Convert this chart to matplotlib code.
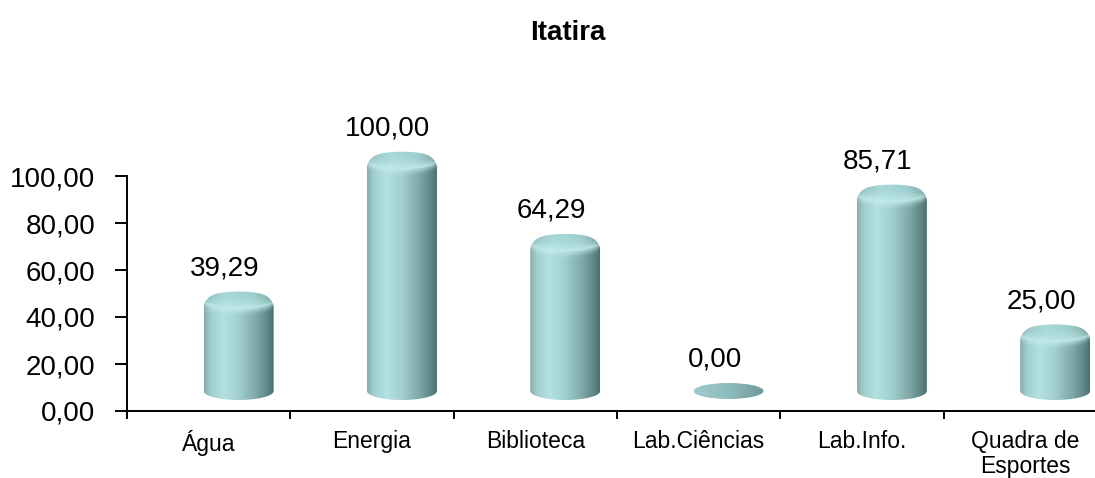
import numpy as np
import matplotlib
matplotlib.use("Agg")
import matplotlib.pyplot as plt
from matplotlib.path import Path
from matplotlib.patches import PathPatch, Ellipse
from matplotlib.colors import to_rgb
from matplotlib.transforms import ScaledTranslation

categories = ["Água", "Energia", "Biblioteca", "Lab.Ciências", "Lab.Info.", "Quadra de\nEsportes"]
values = [39.29, 100.00, 64.29, 0.00, 85.71, 25.00]
value_labels = ["39,29", "100,00", "64,29", "0,00", "85,71", "25,00"]
yticks = [0, 20, 40, 60, 80, 100]
ytick_labels = ["0,00", "20,00", "40,00", "60,00", "80,00", "100,00"]
title = "Itatira"

plt.rcParams['font.family'] = ['Liberation Sans', 'DejaVu Sans']

W, H = 1095, 478
fig = plt.figure(figsize=(W / 100, H / 100), dpi=100)

px_x = 163.3          # pixels per category
px_y = 2.35           # pixels per value unit
x0_px, y0_px = 127, 411
ymax = 130
ax = fig.add_axes([x0_px / W, (H - y0_px) / H, 6 * px_x / W, ymax * px_y / H])
ax.set_xlim(0, 6)
ax.set_ylim(0, ymax)

# geometry in pixels
off_x, off_y = 30, 20     # 3D floor offset
hw, eh, bev = 35, 9, 6    # half width, ellipse half height, top bevel
k = 0.98

body_stops = [(0.0, "#84afaf"), (0.1, "#a2cfcf"), (0.28, "#b3e0e0"),
              (0.5, "#a2cfcf"), (0.75, "#7fa8a8"), (0.92, "#5f8585"), (1.0, "#4c6f6f")]
cap_stops = [(0.0, "#92c2c2"), (0.35, "#a8d8d8"), (0.7, "#9fcece"), (1.0, "#7fa9a9")]
rim_light = np.array(to_rgb("#caf0f0"))


def grad(stops, xs):
    pos = [s[0] for s in stops]
    cols = np.array([to_rgb(s[1]) for s in stops])
    return np.stack([np.interp(xs, pos, cols[:, c]) for c in range(3)], axis=-1)


def draw_cylinder(xc_d, yb_d, h_d):
    hpx = h_d * px_y
    nu = 160
    u = np.linspace(-1, 1, nu)
    ys = np.linspace(-eh, hpx + eh, int((hpx + 2 * eh) * 2) + 2)
    U, Y = np.meshgrid(u, ys)
    s = np.sqrt(np.clip(1 - U ** 2, 0, 1))
    rim = hpx - eh * s
    top = hpx + eh * s - bev * U ** 8
    body = grad(body_stops, (u + 1) / 2)[None, :, :] * np.ones((len(ys), 1, 1))
    cap = grad(cap_stops, (u + 1) / 2)[None, :, :] * np.ones((len(ys), 1, 1))
    # highlight band around the front rim
    d = (Y - rim)
    band = np.exp(-(d / 4.0) ** 2)[..., None] * 0.55
    img = body * (1 - band) + rim_light * band
    t = np.clip(d / np.maximum(top - rim, 1e-3), 0, 1)[..., None]
    capcol = rim_light * (1 - t) ** 2 * 0.8 + cap * (1 - 0.8 * (1 - t) ** 2)
    img = np.where((d > 0)[..., None], capcol, img)
    img = np.clip(img, 0, 1)

    # silhouette path (pixels -> data)
    uu = np.linspace(-1, 1, 120)
    ss = np.sqrt(1 - uu ** 2)
    top_line = hpx + eh * ss - bev * uu ** 8
    bot_line = -eh * ss
    xs_pts = np.concatenate([uu, uu[::-1]]) * hw / px_x + xc_d
    ys_pts = np.concatenate([top_line, bot_line[::-1]]) / px_y + yb_d
    verts = np.column_stack([xs_pts, ys_pts])
    path = Path(np.vstack([verts, verts[:1]]),
                [Path.MOVETO] + [Path.LINETO] * (len(verts) - 1) + [Path.CLOSEPOLY])
    patch = PathPatch(path, transform=ax.transData)
    im = ax.imshow(img, origin='lower',
                   extent=[xc_d - hw / px_x, xc_d + hw / px_x,
                           yb_d - eh / px_y, yb_d + (hpx + eh) / px_y],
                   aspect='auto', interpolation='bilinear', zorder=3)
    im.set_clip_path(patch)


for i, v in enumerate(values):
    xc = i + 0.5 + off_x / px_x
    yb = off_y / px_y
    h = v * k
    if h > 0:
        draw_cylinder(xc, yb, h)
    else:
        el = Ellipse((xc, yb), 2 * hw / px_x, 2 * 8 / px_y, transform=ax.transData)
        img = grad([(0.0, "#9ccaca"), (0.5, "#8fbcbc"), (1.0, "#6f9999")],
                   np.linspace(0, 1, 128))[None, :, :]
        img = np.repeat(img, 2, axis=0)
        im = ax.imshow(img, extent=[xc - hw / px_x, xc + hw / px_x,
                                    yb - 8 / px_y, yb + 8 / px_y],
                       aspect='auto', interpolation='bilinear', zorder=3)
        im.set_clip_path(el)
    ax.text(i + 0.5 + 16 / px_x, yb + h + (eh + 23) / px_y, value_labels[i],
            ha='center', va='center', fontsize=20, color='black', zorder=5)

ax.set_xlim(0, 6)
ax.set_ylim(0, ymax)

for s in ['top', 'right']:
    ax.spines[s].set_visible(False)
ax.spines['left'].set_bounds(0, 100)
ax.spines['left'].set_linewidth(1.4)
ax.spines['bottom'].set_linewidth(1.4)

ax.set_yticks(yticks)
ax.set_yticklabels(ytick_labels, fontsize=20)
ax.tick_params(axis='y', direction='out', length=9, width=1.4, pad=14)

ax.set_xticks(range(0, 7))
ax.set_xticklabels([])
ax.tick_params(axis='x', direction='out', length=6, width=1.4)

trans = ax.get_xaxis_transform() + ScaledTranslation(0, -0.19, fig.dpi_scale_trans)
for i, c in enumerate(categories):
    ax.text(i + 0.5, 0, c, transform=trans, ha='center', va='top',
            fontsize=16.5, linespacing=1.12)

fig.text(568 / W, 1 - 33 / H, title, ha='center', va='center',
         fontsize=20, fontweight='bold')

fig.savefig("out.png", dpi=100, facecolor='white')
